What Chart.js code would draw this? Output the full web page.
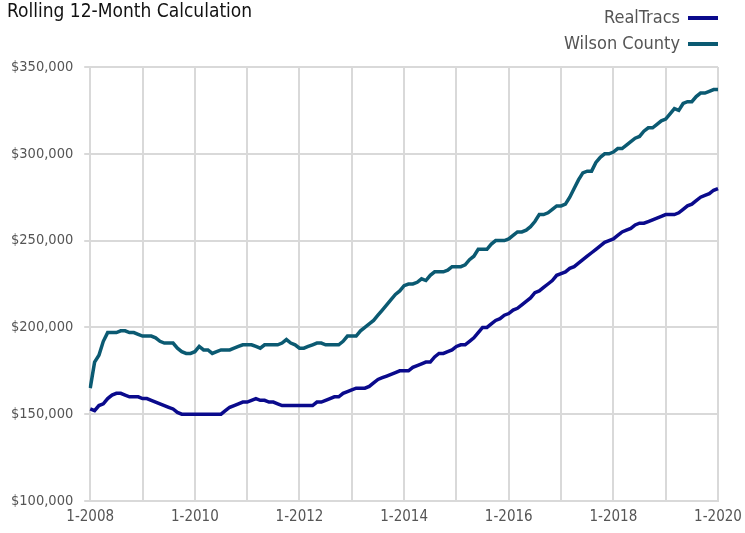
<!DOCTYPE html>
<html lang="en">
<head>
    <meta charset="UTF-8">
    <title>Rolling 12-Month Calculation</title>
    <script src="https://cdn.jsdelivr.net/npm/chart.js"></script>
    <style>
        html, body { margin: 0; padding: 0; background: #fff; }
        .wrap { position: relative; width: 745px; height: 533px; }
    </style>
</head>
<body>
    <div class="wrap">
        <canvas id="rollingChart" width="745" height="533"></canvas>
    </div>

    <script>
        // Monthly values, 1-2008 through 1-2020 (in $1,000)
        const startYear = 2008;
        const realTracs = [
            153, 152, 155, 156, 159, 161, 162, 162, 161, 160, 160, 160,
            159, 159, 158, 157, 156, 155, 154, 153, 151, 150, 150, 150,
            150, 150, 150, 150, 150, 150, 150, 152, 154, 155, 156, 157,
            157, 158, 159, 158, 158, 157, 157, 156, 155, 155, 155, 155,
            155, 155, 155, 155, 157, 157, 158, 159, 160, 160, 162, 163,
            164, 165, 165, 165, 166, 168, 170, 171, 172, 173, 174, 175,
            175, 175, 177, 178, 179, 180, 180, 183, 185, 185, 186, 187,
            189, 190, 190, 192, 194, 197, 200, 200, 202, 204, 205, 207,
            208, 210, 211, 213, 215, 217, 220, 221, 223, 225, 227, 230,
            231, 232, 234, 235, 237, 239, 241, 243, 245, 247, 249, 250,
            251, 253, 255, 256, 257, 259, 260, 260, 261, 262, 263, 264,
            265, 265, 265, 266, 268, 270, 271, 273, 275, 276, 277, 279,
            280
        ];
        const wilsonCounty = [
            165, 180, 184, 192, 197, 197, 197, 198, 198, 197, 197, 196,
            195, 195, 195, 194, 192, 191, 191, 191, 188, 186, 185, 185,
            186, 189, 187, 187, 185, 186, 187, 187, 187, 188, 189, 190,
            190, 190, 189, 188, 190, 190, 190, 190, 191, 193, 191, 190,
            188, 188, 189, 190, 191, 191, 190, 190, 190, 190, 192, 195,
            195, 195, 198, 200, 202, 204, 207, 210, 213, 216, 219, 221,
            224, 225, 225, 226, 228, 227, 230, 232, 232, 232, 233, 235,
            235, 235, 236, 239, 241, 245, 245, 245, 248, 250, 250, 250,
            251, 253, 255, 255, 256, 258, 261, 265, 265, 266, 268, 270,
            270, 271, 275, 280, 285, 289, 290, 290, 295, 298, 300, 300,
            301, 303, 303, 305, 307, 309, 310, 313, 315, 315, 317, 319,
            320, 323, 326, 325, 329, 330, 330, 333, 335, 335, 336, 337,
            337
        ];
        const seriesNames = ['RealTracs', 'Wilson County'];
        const seriesColors = ['#0a0a8c', '#0b5a72'];
        const yTicks = [100000, 150000, 200000, 250000, 300000, 350000];

        const labels = realTracs.map((v, i) => (i % 12 + 1) + '-' + (startYear + Math.floor(i / 12)));

        const narrow = '"DejaVu Sans Condensed", "Liberation Sans Narrow", "Roboto", sans-serif';

        // title + legend drawn on the canvas
        const headerPlugin = {
            id: 'header',
            afterDraw(chart) {
                const ctx = chart.ctx;
                ctx.save();
                ctx.fillStyle = '#111';
                ctx.font = '19px ' + narrow;
                ctx.textBaseline = 'middle';
                ctx.textAlign = 'left';
                ctx.fillText('Rolling 12-Month Calculation', 7, 12);

                const right = chart.chartArea.right;
                chart.data.datasets.forEach((ds, i) => {
                    const y = 18 + i * 26;
                    ctx.fillStyle = '#555';
                    ctx.font = '18px ' + narrow;
                    ctx.textAlign = 'right';
                    ctx.fillText(ds.label, right - 38, y);
                    ctx.strokeStyle = ds.borderColor;
                    ctx.lineWidth = 4;
                    ctx.beginPath();
                    ctx.moveTo(right - 30, y);
                    ctx.lineTo(right, y);
                    ctx.stroke();
                });
                ctx.restore();
            }
        };

        const ctx = document.getElementById('rollingChart').getContext('2d');
        new Chart(ctx, {
            type: 'line',
            data: {
                labels: labels,
                datasets: [realTracs, wilsonCounty].map((vals, i) => ({
                    label: seriesNames[i],
                    data: vals.map(v => v * 1000),
                    borderColor: seriesColors[i],
                    borderWidth: 3.5,
                    pointRadius: 0,
                    tension: 0,
                    fill: false
                }))
            },
            options: {
                responsive: false,
                animation: false,
                layout: { padding: { top: 67, right: 27, left: 0, bottom: 0 } },
                plugins: {
                    legend: { display: false },
                    title: { display: false },
                    tooltip: { enabled: false }
                },
                scales: {
                    x: {
                        offset: false,
                        // let the last label hang into the right margin
                        afterFit: s => { s.paddingRight = 0; },
                        grid: {
                            color: '#d9d9d9',
                            lineWidth: 2,
                            drawTicks: false
                        },
                        border: { color: '#d9d9d9', width: 2 },
                        ticks: {
                            autoSkip: false,
                            maxRotation: 0,
                            padding: 7,
                            color: '#555',
                            font: { family: narrow, size: 15 },
                            callback: function (v, i) {
                                if (i % 12 !== 0) return null;
                                return i % 24 === 0 ? labels[i] : '';
                            }
                        }
                    },
                    y: {
                        min: yTicks[0],
                        max: yTicks[yTicks.length - 1],
                        afterBuildTicks: axis => { axis.ticks = yTicks.map(v => ({ value: v })); },
                        grid: { color: '#d9d9d9', lineWidth: 2, tickLength: 6 },
                        border: { display: false },
                        ticks: {
                            padding: 11,
                            color: '#555',
                            font: { family: narrow, size: 14.5 },
                            callback: v => '$' + v.toLocaleString('en-US')
                        }
                    }
                }
            },
            plugins: [headerPlugin]
        });
    </script>
</body>
</html>
